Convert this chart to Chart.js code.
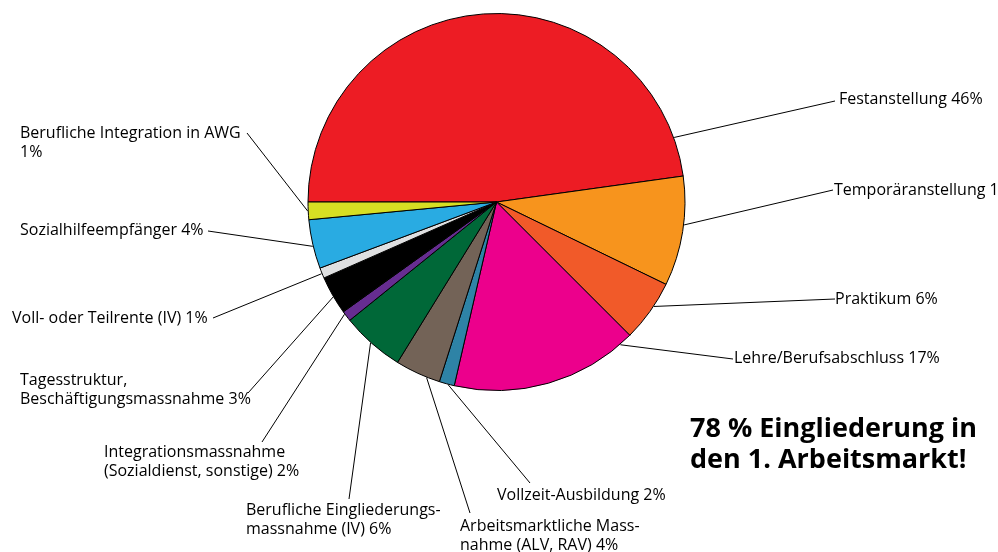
<!DOCTYPE html>
<html>
<head>
<meta charset="utf-8">
<script src="https://cdn.jsdelivr.net/npm/chart.js@4"></script>
<style>
  html, body { margin: 0; padding: 0; background: #fff; overflow: hidden; }
  #wrap { width: 998px; height: 552px; }
</style>
</head>
<body>
<div id="wrap"><canvas id="pieChart" width="998" height="552"></canvas></div>
<script>
// --- Data ---
const categories = [
    "Festanstellung", "Temporäranstellung", "Praktikum", "Lehre/Berufsabschluss",
    "Vollzeit-Ausbildung", "Arbeitsmarktliche Massnahme (ALV, RAV)",
    "Berufliche Eingliederungsmassnahme (IV)", "Integrationsmassnahme (Sozialdienst, sonstige)",
    "Tagesstruktur, Beschäftigungsmassnahme", "Voll- oder Teilrente (IV)",
    "Sozialhilfeempfänger", "Berufliche Integration in AWG"
];
const shares = [47.8, 9.4, 5.3, 16.1, 1.3, 3.9, 5.4, 0.9, 3.3, 0.9, 4.2, 1.5];
const labelLines = [
    ["Festanstellung 46%"],
    ["Temporäranstellung 10%"],
    ["Praktikum 6%"],
    ["Lehre/Berufsabschluss 17%"],
    ["Vollzeit-Ausbildung 2%"],
    ["Arbeitsmarktliche Mass-", "nahme (ALV, RAV) 4%"],
    ["Berufliche Eingliederungs-", "massnahme (IV) 6%"],
    ["Integrationsmassnahme", "(Sozialdienst, sonstige) 2%"],
    ["Tagesstruktur,", "Beschäftigungsmassnahme 3%"],
    ["Voll- oder Teilrente (IV) 1%"],
    ["Sozialhilfeempfänger 4%"],
    ["Berufliche Integration in AWG", "1%"]
];
const headline = ["78 % Eingliederung in", "den 1. Arbeitsmarkt!"];

const sliceColors = [
    "#ED1C24", "#F7941D", "#F15A29", "#EC008C", "#2E83A6", "#736357",
    "#006838", "#662D91", "#000000", "#DFE0E1", "#29ABE2", "#D7DF23"
];

// --- Callout layout: where along the slice the leader starts, where it ends, where text sits ---
const callouts = [
    { frac: 0.93, end: [835, 101], text: [839, 104] },
    { frac: 0.44, end: [833, 190], text: [834, 195] },
    { frac: 0.40, end: [835, 299], text: [835, 304] },
    { frac: 0.07, end: [733, 359], text: [734, 363] },
    { frac: 0.40, end: [530, 483], text: [497, 500] },
    { frac: 0.29, end: [470, 513], text: [460, 531] },
    { frac: 0.52, end: [349, 499], text: [246, 515] },
    { frac: 0.75, end: [262, 442], text: [104, 457] },
    { frac: 0.46, end: [248, 393], text: [20, 385] },
    { frac: 0.45, end: [213, 318], text: [12, 323] },
    { frac: 0.46, end: [208, 231], text: [20, 235] },
    { frac: 0.49, end: [247, 133], text: [20, 138] }
];

const FONT = '16px "Open Sans", "Noto Sans", sans-serif';
const LINE_H = 18.5;

const calloutPlugin = {
    id: "callouts",
    afterDatasetsDraw(chart) {
        const ctx = chart.ctx;
        const arcs = chart.getDatasetMeta(0).data;
        ctx.save();
        ctx.strokeStyle = "#000";
        ctx.lineWidth = 1;
        ctx.fillStyle = "#000";
        ctx.font = FONT;
        ctx.textBaseline = "alphabetic";
        ctx.textAlign = "left";
        callouts.forEach((c, i) => {
            const arc = arcs[i];
            const a = arc.startAngle + c.frac * (arc.endAngle - arc.startAngle);
            const r = arc.outerRadius + 0.5;
            ctx.beginPath();
            ctx.moveTo(arc.x + Math.cos(a) * r, arc.y + Math.sin(a) * r);
            ctx.lineTo(c.end[0], c.end[1]);
            ctx.stroke();
            labelLines[i].forEach((line, j) => {
                ctx.fillText(line, c.text[0], c.text[1] + j * LINE_H);
            });
        });
        // headline
        ctx.font = 'bold 27px "Open Sans", "Noto Sans", sans-serif';
        headline.forEach((line, j) => {
            ctx.fillText(line, 690, 437 + j * 31);
        });
        ctx.restore();
    }
};

const pieChart = new Chart(document.getElementById("pieChart"), {
    type: "pie",
    data: {
        labels: categories,
        datasets: [{
            data: shares,
            backgroundColor: sliceColors,
            borderColor: "#000",
            borderWidth: 1
        }]
    },
    options: {
        responsive: false,
        animation: false,
        rotation: -90,
        layout: { padding: { left: 307, right: 312, top: 13, bottom: 161 } },
        plugins: {
            legend: { display: false },
            tooltip: { enabled: false }
        }
    },
    plugins: [calloutPlugin]
});
</script>
</body>
</html>
